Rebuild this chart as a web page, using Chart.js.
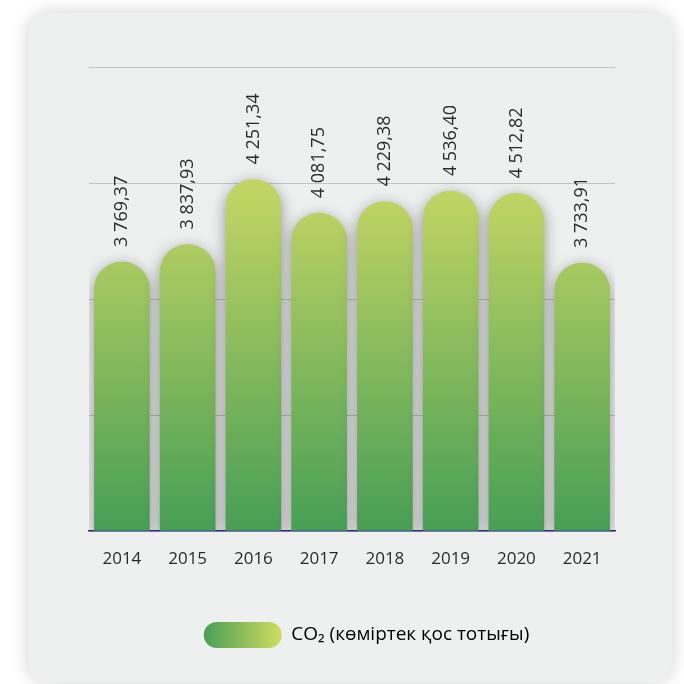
<!DOCTYPE html>
<html>
<head>
<meta charset="utf-8">
<script src="https://cdn.jsdelivr.net/npm/chart.js@4"></script>
<style>
  html, body { margin: 0; padding: 0; background: #ffffff; }
  body { width: 684px; height: 684px; position: relative; overflow: hidden; }
  .card {
    position: absolute; left: 28px; top: 13px; width: 644px; height: 670px;
    background: #eef0ef; border-radius: 22px;
    box-shadow: 0 0 18px rgba(0, 0, 0, 0.18);
  }
  #wrap { position: absolute; left: 0; top: 0; width: 684px; height: 684px; }
</style>
</head>
<body>
<div class="card"></div>
<div id="wrap"><canvas id="co2Chart" width="684" height="684"></canvas></div>
<script>
// годы
const years = ['2014', '2015', '2016', '2017', '2018', '2019', '2020', '2021'];
// высота столбцов, как нарисовано (сетка через 1000)
const barHeights = [2320, 2470, 3030, 2740, 2840, 2930, 2910, 2310];
// подписи над столбцами
const valueLabels = ['3 769,37', '3 837,93', '4 251,34', '4 081,75', '4 229,38', '4 536,40', '4 512,82', '3 733,91'];
const seriesName = 'CO\u2082 (көміртек қос тотығы)';

const FONT = '"Open Sans", "DejaVu Sans", sans-serif';

/* ---------- градиент столбцов ---------- */
function barGradient(ctx) {
    const area = ctx.chart.chartArea;
    if (!area) return '#7fb85b';
    const g = ctx.chart.ctx.createLinearGradient(0, area.bottom, 0, area.top);
    g.addColorStop(0, '#479e56');
    g.addColorStop(0.72, '#c0d463');
    g.addColorStop(1, '#d0dc60');
    return g;
}

/* ---------- тень под столбцами ---------- */
const barShadow = {
    id: 'barShadow',
    beforeDatasetsDraw(chart) {
        const c = chart.ctx;
        c.save();
        c.shadowColor = 'rgba(0, 0, 0, 0.4)';
        c.shadowBlur = 15;
        c.shadowOffsetX = 0;
        c.shadowOffsetY = 4;
    },
    afterDatasetsDraw(chart) {
        chart.ctx.restore();
    }
};

/* ---------- вертикальные подписи значений ---------- */
const valueText = {
    id: 'valueText',
    afterDatasetsDraw(chart) {
        const c = chart.ctx;
        const meta = chart.getDatasetMeta(0);
        c.save();
        c.fillStyle = '#2b2b2b';
        c.font = '18px ' + FONT;
        c.textAlign = 'left';
        c.textBaseline = 'middle';
        meta.data.forEach((bar, i) => {
            c.save();
            c.translate(bar.x, bar.y - 15);
            c.rotate(-Math.PI / 2);
            c.fillText(valueLabels[i], 0, 0);
            c.restore();
        });
        c.restore();
    }
};

new Chart(document.getElementById('co2Chart'), {
    type: 'bar',
    data: {
        labels: years,
        datasets: [{
            label: seriesName,
            data: barHeights,
            backgroundColor: barGradient,
            borderWidth: 0,
            borderSkipped: 'bottom',
            borderRadius: { topLeft: 30, topRight: 30, bottomLeft: 0, bottomRight: 0 },
            barThickness: 55
        }]
    },
    options: {
        responsive: false,
        animation: false,
        layout: { padding: { top: 67, left: 89, right: 40, bottom: 26 } },
        scales: {
            x: {
                grid: { display: false },
                border: { display: true, color: '#2e3192', width: 1.5 },
                ticks: { color: '#2b2b2b', font: { family: FONT, size: 17 }, padding: 10 },
                afterFit(scale) { scale.height = 81; }
            },
            y: {
                min: 0, max: 4000,
                ticks: { display: false, stepSize: 1000 },
                border: { display: false },
                grid: { color: '#c4c4c4', lineWidth: 1, drawTicks: false }
            },
            y2: {
                position: 'right',
                display: true,
                grid: { display: false },
                border: { display: false },
                ticks: { display: false },
                afterFit(scale) { scale.width = 29; }
            }
        },
        plugins: {
            legend: {
                position: 'bottom',
                labels: {
                    boxWidth: 78,
                    boxHeight: 26,
                    useBorderRadius: true,
                    borderRadius: 13,
                    color: '#2b2b2b',
                    font: { family: FONT, size: 19 },
                    padding: 10,
                    generateLabels(chart) {
                        const g = chart.ctx.createLinearGradient(203, 0, 281, 0);
                        g.addColorStop(0, '#479e56');
                        g.addColorStop(1, '#d0dc60');
                        return [{
                            text: seriesName,
                            fillStyle: g,
                            strokeStyle: 'rgba(0,0,0,0)',
                            lineWidth: 0,
                            borderRadius: 13,
                            datasetIndex: 0,
                            hidden: false
                        }];
                    }
                }
            },
            tooltip: { enabled: false }
        }
    },
    plugins: [barShadow, valueText]
});
</script>
</body>
</html>
